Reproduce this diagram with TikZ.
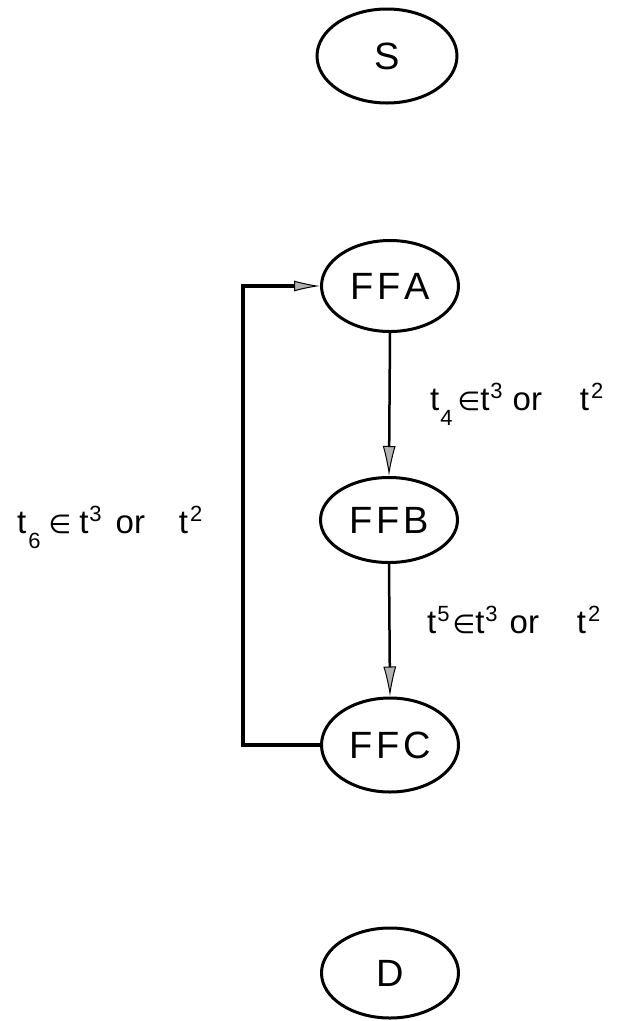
\documentclass[tikz,border=0pt]{standalone}
\usepackage{fontspec}
\setmainfont{Liberation Sans}
\newfontfamily\symfont{DejaVu Sans}
\usetikzlibrary{shapes.geometric,arrows.meta}
\newcommand{\elt}{{\symfont\fontsize{26}{26}\selectfont ∈}}
\newcommand{\sups}[1]{\raisebox{12pt}{\fontsize{22}{22}\selectfont #1}}
\newcommand{\subs}[1]{\raisebox{-15pt}{\fontsize{22}{22}\selectfont #1}}
\begin{document}
\begin{tikzpicture}[x=1pt,y=-1pt,
  state/.style={draw,ellipse,line width=3pt,minimum width=137pt,minimum height=90pt,inner sep=0pt,
    font=\fontsize{38}{40}\selectfont},
  lbl/.style={anchor=base west,inner sep=0pt,font=\fontsize{33}{35}\selectfont},
  flow/.style={line width=2.5pt,-{Latex[length=30pt,width=13pt,fill=gray!60,line width=1pt]}},
  loopline/.style={line width=3.5pt}]
\useasboundingbox (0,0) rectangle (626,1021);
\node[state,minimum width=140pt,minimum height=94pt] (S) at (387,56) {S};
\node[state,minimum height=91pt] (FFA) at (390,286) {F\kern4pt F\kern4pt A};
\node[state,minimum height=85pt] (FFB) at (389,520) {F\kern4pt F\kern4pt B};
\node[state,minimum height=94pt] (FFC) at (390,745) {F\kern4pt F\kern4pt C};
\node[state] (D) at (390,973) {D};
\coordinate (c1) at (243,745);
\coordinate (c2) at (243,286);
\draw[flow] (FFA.south) -- (FFB.north);
\draw[flow] (FFB.south) -- (FFC.north);
\draw[loopline] (FFC.west) -- (c1) -- (c2) -- (c2-|{(297,0)});
\draw[flow,line width=3.5pt,-{Latex[length=26pt,width=11pt,fill=gray!60,line width=1pt]}] (c2) -- (FFA.west);
\node[lbl] (l4) at (430,410) {t\hspace{1pt}\subs{4}\hspace{5pt}\elt\hspace{0pt}t\hspace{1pt}\sups{3}\hspace{10pt}or\hspace{38pt}t\hspace{2pt}\sups{2}};
\node[lbl] (l5) at (427,633) {t\hspace{1pt}\sups{5}\hspace{3pt}\elt\hspace{0pt}t\hspace{1pt}\sups{3}\hspace{12pt}or\hspace{38pt}t\hspace{2pt}\sups{2}};
\node[lbl] (l6) at (17,533) {t\hspace{2pt}\subs{6}\hspace{8pt}\elt\hspace{8pt}t\hspace{1pt}\sups{3}\hspace{14pt}or\hspace{34pt}t\hspace{2pt}\sups{2}};
\end{tikzpicture}
\end{document}
